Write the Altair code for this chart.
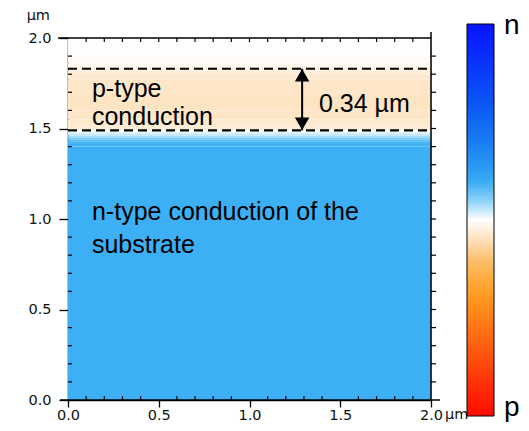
import altair as alt
import pandas as pd

# ---- vertical profile of the scan (µm) and signal (-1 = p, +1 = n) ----
band_top    = [2.00, 1.90, 1.86, 1.84, 1.82, 1.80, 1.77, 1.70, 1.60, 1.55, 1.52, 1.49, 1.48, 1.47, 1.46, 1.45, 1.44, 1.43, 1.415, 1.40, 1.00]
band_bottom = [1.90, 1.86, 1.84, 1.82, 1.80, 1.77, 1.70, 1.60, 1.55, 1.52, 1.49, 1.48, 1.47, 1.46, 1.45, 1.44, 1.43, 1.415, 1.40, 1.00, 0.00]
band_value  = [-0.004, -0.012, -0.025, -0.045, -0.06, -0.075, -0.085, -0.09, -0.085, -0.078, -0.065, 0.0, 0.025, 0.05, 0.08, 0.11, 0.135, 0.155, 0.168, 0.175, 0.175]

# ---- colour bar ----
cbar_value = [-1.0, -0.64, -0.36, -0.2, -0.08, 0.0, 0.06, 0.16, 0.34, 0.6, 1.0]
cbar_color = ["#ff0a00", "#ff6010", "#ffa020", "#fcc070", "#fde8cc", "#ffffff",
              "#b8e4fa", "#40b4f5", "#1e88f2", "#0a55f5", "#0814ff"]

# ---- axes ----
major_ticks = [0.0, 0.5, 1.0, 1.5, 2.0]
minor_ticks = [0.1, 0.2, 0.3, 0.4, 0.6, 0.7, 0.8, 0.9, 1.1, 1.2, 1.3, 1.4, 1.6, 1.7, 1.8, 1.9]
all_ticks = [0.1, 0.2, 0.3, 0.4, 0.5, 0.6, 0.7, 0.8, 0.9, 1.0, 1.1, 1.2, 1.3, 1.4, 1.5, 1.6, 1.7, 1.8, 1.9]

# ---- annotations ----
layer_edges = [1.83, 1.49]
arrow_x = 1.29
ann_text = ["p-type", "conduction", "0.34 µm", "n-type conduction of the", "substrate"]
ann_x = [0.132, 0.132, 1.383, 0.132, 0.132]
ann_y = [1.674, 1.519, 1.591, 0.995, 0.812]

W, H = 363, 362
FONT_AX = "DejaVu Sans"
FONT_TXT = "Liberation Sans"

xs = alt.Scale(domain=[0, 2], nice=False, zero=False)
ys = alt.Scale(domain=[0, 2], nice=False, zero=False)

x_axis = alt.Axis(values=major_ticks, format=".1f", title=None, grid=False,
                  tickSize=7, tickColor="black", tickWidth=1.3,
                  domainColor="black", domainWidth=1.5,
                  labelFont=FONT_AX, labelFontSize=14.5, labelColor="#111",
                  labelPadding=1, labelFlush=False)
y_axis = alt.Axis(values=major_ticks, format=".1f", title=None, grid=False,
                  tickSize=9, tickColor="black", tickWidth=1.3,
                  domainColor="black", domainWidth=1.5,
                  labelFont=FONT_AX, labelFontSize=14.5, labelColor="#111",
                  labelPadding=8, labelFlush=False)


def X(field):
    return alt.X(field, type="quantitative", scale=xs, axis=x_axis)


def Y(field):
    return alt.Y(field, type="quantitative", scale=ys, axis=y_axis)


bands = pd.DataFrame({"y0": band_bottom, "y1": band_top, "v": band_value,
                      "x0": [0.0] * len(band_value), "x1": [2.0] * len(band_value)})

heat = alt.Chart(bands).mark_rect(stroke=None).encode(
    x=X("x0"), x2="x1", y=Y("y0"), y2="y1",
    color=alt.Color("v:Q",
                    scale=alt.Scale(domain=cbar_value, range=cbar_color, interpolate="rgb"),
                    legend=alt.Legend(orient="none", legendX=399, legendY=-14,
                                      direction="vertical", title=None,
                                      gradientLength=392, gradientThickness=27,
                                      gradientStrokeColor="black", gradientStrokeWidth=1,
                                      labelExpr="''", padding=0)),
)

edges = pd.DataFrame({"y": layer_edges, "x0": [0.0, 0.0], "x1": [1.99, 1.99]})
dashed = alt.Chart(edges).mark_rule(color="black", strokeWidth=2.2, strokeDash=[9, 5]).encode(
    x=X("x0"), x2="x1", y=Y("y"))

arrow_df = pd.DataFrame({"x": [arrow_x], "y0": [layer_edges[1]], "y1": [layer_edges[0]]})
shaft = alt.Chart(arrow_df).mark_rule(color="black", strokeWidth=2).encode(
    x=X("x"), y=Y("y0"), y2="y1")
head_top = alt.Chart(arrow_df).mark_point(shape="triangle-up", filled=True, color="black",
                                          opacity=1, size=210, yOffset=6.5).encode(x=X("x"), y=Y("y1"))
head_bot = alt.Chart(arrow_df).mark_point(shape="triangle-down", filled=True, color="black",
                                          opacity=1, size=210, yOffset=-6.5).encode(x=X("x"), y=Y("y0"))

ann = pd.DataFrame({"t": ann_text, "x": ann_x, "y": ann_y})
texts = alt.Chart(ann).mark_text(font=FONT_TXT, fontSize=25, align="left", baseline="alphabetic",
                                 color="black").encode(x=X("x"), y=Y("y"), text="t:N")

# frame: top and right lines, extended bottom / left axis lines
one = pd.DataFrame({"a": [0]})
top_line = alt.Chart(one).mark_rule(color="black", strokeWidth=1.5).encode(
    x=alt.value(-10), x2=alt.value(W), y=alt.value(0))
right_line = alt.Chart(one).mark_rule(color="black", strokeWidth=1.5).encode(
    x=alt.value(W), y=alt.value(-6), y2=alt.value(H))
bottom_ext = alt.Chart(one).mark_rule(color="black", strokeWidth=1.5).encode(
    x=alt.value(-8), x2=alt.value(W + 9), y=alt.value(H))

minor = pd.DataFrame({"t": minor_ticks})
allt = pd.DataFrame({"t": all_ticks})
tick_style = dict(color="black", strokeWidth=1.2)
left_minor = alt.Chart(minor).mark_rule(**tick_style).encode(
    x=alt.value(0), x2=alt.value(4), y=Y("t"))
bottom_minor = alt.Chart(minor).mark_rule(**tick_style).encode(
    y=alt.value(H), y2=alt.value(H - 4), x=X("t"))
top_minor = alt.Chart(allt).mark_rule(**tick_style).encode(
    y=alt.value(0), y2=alt.value(4), x=X("t"))
right_minor = alt.Chart(allt).mark_rule(**tick_style).encode(
    x=alt.value(W), x2=alt.value(W + 5), y=Y("t"))

# unit labels and colour-bar labels
units = alt.Chart(one).mark_text(font=FONT_AX, fontSize=14.5, color="#111", align="right",
                                 baseline="alphabetic").encode(
    x=alt.value(-18), y=alt.value(-18), text=alt.value("µm"))
units_x = alt.Chart(one).mark_text(font=FONT_AX, fontSize=14.5, color="#111", align="left",
                                   baseline="alphabetic").encode(
    x=alt.value(W + 14), y=alt.value(H + 19), text=alt.value("µm"))
n_lab = alt.Chart(one).mark_text(font=FONT_TXT, fontSize=28, color="black", align="left",
                                 baseline="alphabetic").encode(
    x=alt.value(436), y=alt.value(-4), text=alt.value("n"))
p_lab = alt.Chart(one).mark_text(font=FONT_TXT, fontSize=28, color="black", align="left",
                                 baseline="alphabetic").encode(
    x=alt.value(436), y=alt.value(378), text=alt.value("p"))

chart = alt.layer(
    heat, dashed, shaft, head_top, head_bot, texts,
    top_line, right_line, bottom_ext,
    left_minor, bottom_minor, top_minor, right_minor,
    units, units_x, n_lab, p_lab,
).properties(
    width=W, height=H,
    autosize=alt.AutoSizeParams(type="none"),
    padding={"left": 60, "top": 30, "right": 90, "bottom": 23},
).configure_view(stroke=None).configure(background="white")

chart.save("out.html", embed_options={"renderer": "svg", "actions": False})
